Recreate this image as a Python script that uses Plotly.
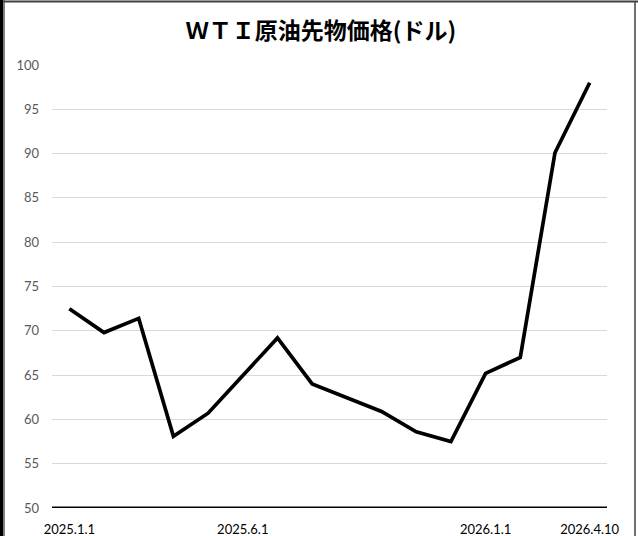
import plotly.graph_objects as go

dates = ["2025.1.1", "2025.2.1", "2025.3.1", "2025.4.1", "2025.5.1", "2025.6.1",
         "2025.7.1", "2025.8.1", "2025.9.1", "2025.10.1", "2025.11.1", "2025.12.1",
         "2026.1.1", "2026.2.1", "2026.3.1", "2026.4.10"]
prices = [72.5, 69.8, 71.4, 58.1, 60.7, 65.0, 69.2, 64.0, 62.4, 60.9, 58.6, 57.5,
          65.2, 67.0, 90.1, 98.0]
shown_ticks = ["2025.1.1", "2025.6.1", "2026.1.1", "2026.4.10"]
y_ticks = [50, 55, 60, 65, 70, 75, 80, 85, 90, 95, 100]
title_text = "ＷＴＩ原油先物価格(ドル)"

W, H = 638, 536
L, R, T, B = 52, 31, 65, 28
pw, ph = W - L - R, H - T - B

def px(x):
    return (x - L) / pw

def py(y):
    return (H - B - y) / ph

fig = go.Figure()
fig.add_trace(go.Scatter(
    x=dates, y=prices, mode="lines",
    line=dict(color="black", width=3.7),
    hoverinfo="x+y", showlegend=False,
))

fig.update_layout(
    width=W, height=H,
    margin=dict(l=L, r=R, t=T, b=B, autoexpand=False),
    paper_bgcolor="white", plot_bgcolor="white",
    title=dict(text=title_text, x=321 / W, xref="container", xanchor="center",
               y=1 - 31 / H, yref="container", yanchor="middle",
               font=dict(family="Noto Sans CJK JP", size=23, color="black", weight="bold")),
    xaxis=dict(
        type="category", range=[-0.5, 15.5], automargin=False,
        tickmode="array", tickvals=shown_ticks, ticktext=shown_ticks,
        showgrid=False, zeroline=False, showline=False, ticks="",
        tickfont=dict(family="Lato", size=13, color="black"),
        ticklabelstandoff=12,
    ),
    yaxis=dict(
        range=[50, 100], tickmode="array", tickvals=y_ticks, automargin=False,
        showgrid=True, gridcolor="#d9d9d9", gridwidth=1,
        zeroline=False, showline=False, ticks="",
        tickfont=dict(family="Lato", size=13, color="#595959"),
        ticklabelstandoff=12,
    ),
)

# thick baseline at 50
fig.add_shape(type="line", xref="paper", yref="y", x0=0, x1=1, y0=50, y1=50,
              line=dict(color="black", width=3))

# outer frame
fig.add_shape(type="rect", xref="paper", yref="paper",
              x0=px(0), x1=px(3.5), y0=py(H), y1=py(0),
              fillcolor="black", line=dict(width=0), layer="above")
fig.add_shape(type="line", xref="paper", yref="paper",
              x0=px(4.5), x1=px(4.5), y0=py(H), y1=py(0),
              line=dict(color="#808080", width=1), layer="above")
fig.add_shape(type="line", xref="paper", yref="paper",
              x0=px(3.5), x1=px(W), y0=py(1.5), y1=py(1.5),
              line=dict(color="#404040", width=2), layer="above")
fig.add_shape(type="line", xref="paper", yref="paper",
              x0=px(635), x1=px(635), y0=py(H), y1=py(1),
              line=dict(color="#404040", width=1.5), layer="above")

fig.write_html(
    "out.html",
    config={"displayModeBar": False},
    post_script="document.body.style.margin='0';document.body.style.overflow='hidden';",
)
